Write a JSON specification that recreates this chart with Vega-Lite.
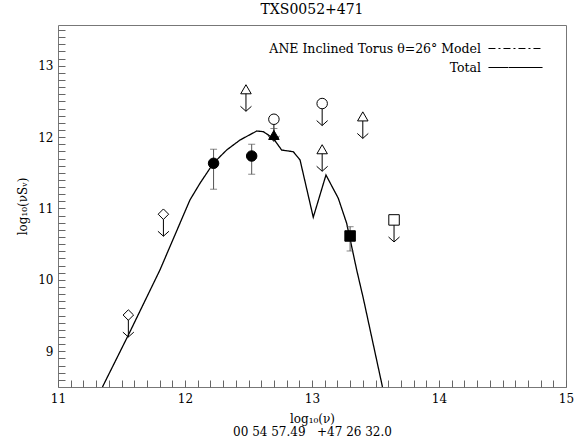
{
  "$schema": "https://vega.github.io/schema/vega-lite/v6.json",
  "width": 508,
  "height": 362,
  "autosize": {"type": "none"},
  "padding": {"left": 58, "top": 25, "right": 13, "bottom": 53},
  "background": "white",
  "title": {"text": "TXS0052+471", "font": "DejaVu Serif", "fontSize": 14, "fontWeight": "normal", "offset": 8, "anchor": "middle", "color": "black"},
  "config": {
    "view": {"stroke": "#777", "strokeWidth": 1},
    "font": "DejaVu Serif",
    "axis": {"grid": false, "domain": false, "labelFont": "DejaVu Serif", "titleFont": "DejaVu Serif", "labelColor": "black", "titleColor": "black", "tickColor": "#777", "labelFontSize": 12, "titleFontSize": 12, "titleFontWeight": "normal"}
  },
  "datasets": {
    "sed": [
      {"x": 11.35, "y": 8.5, "series": "Total"},
      {"x": 11.554, "y": 9.228, "series": "Total"},
      {"x": 11.803, "y": 10.14, "series": "Total"},
      {"x": 12.039, "y": 11.12, "series": "Total"},
      {"x": 12.118, "y": 11.353, "series": "Total"},
      {"x": 12.223, "y": 11.633, "series": "Total"},
      {"x": 12.328, "y": 11.819, "series": "Total"},
      {"x": 12.433, "y": 11.959, "series": "Total"},
      {"x": 12.565, "y": 12.085, "series": "Total"},
      {"x": 12.617, "y": 12.076, "series": "Total"},
      {"x": 12.695, "y": 11.983, "series": "Total"},
      {"x": 12.761, "y": 11.819, "series": "Total"},
      {"x": 12.853, "y": 11.795, "series": "Total"},
      {"x": 12.906, "y": 11.679, "series": "Total"},
      {"x": 13.01, "y": 10.877, "series": "Total"},
      {"x": 13.11, "y": 11.469, "series": "Total"},
      {"x": 13.207, "y": 11.143, "series": "Total"},
      {"x": 13.273, "y": 10.793, "series": "Total"},
      {"x": 13.352, "y": 10.139, "series": "Total"},
      {"x": 13.404, "y": 9.742, "series": "Total"},
      {"x": 13.555, "y": 8.5, "series": "Total"}
    ],
    "obs": [
      {"x": 11.554, "y": 9.508, "group": "g1", "limit": true},
      {"x": 11.83, "y": 10.92, "group": "g1", "limit": true},
      {"x": 12.225, "y": 11.633, "lo": 11.27, "hi": 11.83, "group": "g2", "limit": false},
      {"x": 12.525, "y": 11.735, "lo": 11.48, "hi": 11.9, "group": "g2", "limit": false},
      {"x": 12.7, "y": 12.03, "lo": 11.97, "hi": 12.12, "group": "g3", "limit": false},
      {"x": 12.7, "y": 12.25, "group": "g4", "limit": true},
      {"x": 12.48, "y": 12.67, "group": "g5", "limit": true},
      {"x": 13.08, "y": 12.47, "group": "g4", "limit": true},
      {"x": 13.08, "y": 11.83, "group": "g5", "limit": true},
      {"x": 13.4, "y": 12.29, "group": "g5", "limit": true},
      {"x": 13.3, "y": 10.615, "lo": 10.405, "hi": 10.745, "group": "g6", "limit": false},
      {"x": 13.646, "y": 10.84, "group": "g7", "limit": true}
    ]
  },
  "resolve": {"axis": {"x": "independent", "y": "independent"}},
  "layer": [
    {
      "data": {"name": "sed"},
      "mark": {"type": "line", "color": "black", "strokeWidth": 1.3, "clip": true},
      "encoding": {
        "x": {"field": "x", "type": "quantitative", "scale": {"domain": [11, 15], "nice": false, "zero": false},
              "axis": {"orient": "bottom", "values": [11, 12, 13, 14, 15], "format": "d", "ticks": false, "labelPadding": 6, "labelFlush": false, "title": ["log₁₀(ν)", "00 54 57.49 \u00a0\u00a0+47 26 32.0"], "titlePadding": 9, "titleLineHeight": 13}},
        "y": {"field": "y", "type": "quantitative", "scale": {"domain": [8.5, 13.57], "nice": false, "zero": false},
              "axis": {"orient": "left", "values": [9, 10, 11, 12, 13], "format": "d", "ticks": false, "labelPadding": 5, "labelFlush": false, "title": "log₁₀(νSᵥ)", "titlePadding": 8}},
        "strokeDash": {"field": "series", "type": "nominal",
          "scale": {"domain": ["ANE Inclined Torus θ=26° Model", "Total"], "range": [[7, 3, 2, 3], [1, 0]]},
          "legend": {"title": null, "orient": "none", "legendX": 451, "legendY": 17, "symbolType": "M-5,0L5,0", "symbolSize": 117, "symbolStrokeColor": "black", "symbolStrokeWidth": 1.2, "labelAlign": "right", "labelOffset": -41, "labelFontSize": 12.5, "labelFont": "DejaVu Serif", "labelColor": "black", "labelLimit": 400, "rowPadding": 6, "padding": 0}}
      }
    },
    {
      "data": {"name": "obs"},
      "transform": [{"filter": "datum.limit"}],
      "mark": {"type": "rule", "color": "black", "strokeWidth": 1, "y2Offset": 22},
      "encoding": {
        "x": {"field": "x", "type": "quantitative", "axis": {"orient": "top", "offset": -362, "values": [11,11.1,11.2,11.3,11.4,11.5,11.6,11.7,11.8,11.9,12,12.1,12.2,12.3,12.4,12.5,12.6,12.7,12.8,12.9,13,13.1,13.2,13.3,13.4,13.5,13.6,13.7,13.8,13.9,14,14.1,14.2,14.3,14.4,14.5,14.6,14.7,14.8,14.9,15], "labels": false, "ticks": true, "tickSize": 7, "tickColor": "#666", "title": null}},
        "y": {"field": "y", "type": "quantitative", "axis": {"orient": "right", "offset": -508, "values": [8.6,8.7,8.8,8.9,9,9.1,9.2,9.3,9.4,9.5,9.6,9.7,9.8,9.9,10,10.1,10.2,10.3,10.4,10.5,10.6,10.7,10.8,10.9,11,11.1,11.2,11.3,11.4,11.5,11.6,11.7,11.8,11.9,12,12.1,12.2,12.3,12.4,12.5,12.6,12.7,12.8,12.9,13,13.1,13.2,13.3,13.4,13.5], "labels": false, "ticks": true, "tickSize": 7, "tickColor": "#666", "title": null}},
        "y2": {"field": "y"}
      }
    },
    {
      "data": {"name": "obs"},
      "transform": [{"filter": "datum.limit"}],
      "mark": {"type": "point", "shape": "M-1,-0.9L0,0L1,-0.9", "filled": false, "stroke": "black", "strokeWidth": 1, "size": 121, "yOffset": 22, "opacity": 1},
      "encoding": {
        "x": {"field": "x", "type": "quantitative", "axis": null},
        "y": {"field": "y", "type": "quantitative", "axis": null}
      }
    },
    {
      "data": {"name": "obs"},
      "transform": [{"filter": "isValid(datum.lo)"}],
      "mark": {"type": "rule", "color": "#555", "strokeWidth": 1},
      "encoding": {
        "x": {"field": "x", "type": "quantitative", "axis": null},
        "y": {"field": "lo", "type": "quantitative", "axis": null},
        "y2": {"field": "hi"}
      }
    },
    {
      "data": {"name": "obs"},
      "transform": [{"filter": "isValid(datum.lo)"}],
      "mark": {"type": "tick", "orient": "horizontal", "color": "#555", "size": 7, "thickness": 1},
      "encoding": {
        "x": {"field": "x", "type": "quantitative", "axis": null},
        "y": {"field": "lo", "type": "quantitative", "axis": null}
      }
    },
    {
      "data": {"name": "obs"},
      "transform": [{"filter": "isValid(datum.hi)"}],
      "mark": {"type": "tick", "orient": "horizontal", "color": "#555", "size": 7, "thickness": 1},
      "encoding": {
        "x": {"field": "x", "type": "quantitative", "axis": null},
        "y": {"field": "hi", "type": "quantitative", "axis": null}
      }
    },
    {
      "data": {"name": "obs"},
      "mark": {"type": "point", "filled": true, "stroke": "black", "strokeWidth": 1, "size": 110, "opacity": 1},
      "encoding": {
        "x": {"field": "x", "type": "quantitative", "axis": null},
        "y": {"field": "y", "type": "quantitative", "axis": null},
        "shape": {"field": "group", "type": "nominal", "scale": {"domain": ["g1","g2","g3","g4","g5","g6","g7"], "range": ["diamond","circle","triangle-up","circle","triangle-up","square","square"]}, "legend": null},
        "fill": {"field": "group", "type": "nominal", "scale": {"domain": ["g1","g2","g3","g4","g5","g6","g7"], "range": ["white","black","black","white","white","black","white"]}, "legend": null}
      }
    }
  ]
}
